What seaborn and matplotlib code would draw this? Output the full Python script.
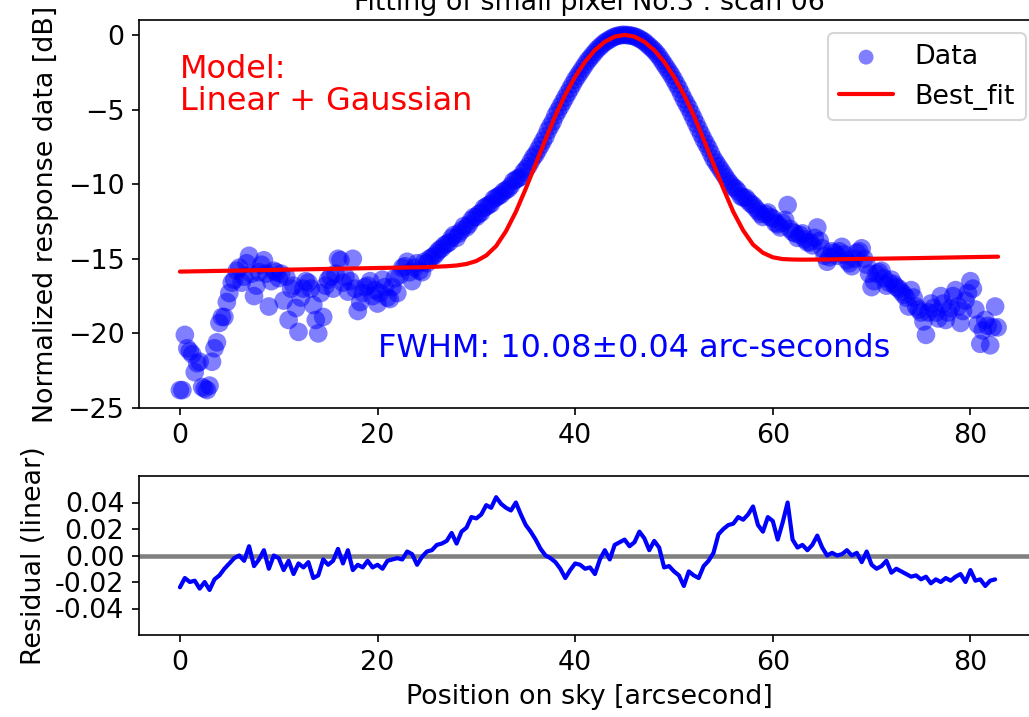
import numpy as np
import matplotlib
matplotlib.use("Agg")
import matplotlib.pyplot as plt
import seaborn as sns

# ---------------- data ----------------
title = "Fitting of small pixel No.3 : scan 06"
model_text = "Model:\nLinear + Gaussian"
fwhm_text = "FWHM: 10.08\u00b10.04 arc-seconds"

# sampling step of the scan [arcsec]
step = 0.5

# normalized response data [dB] at x = 0, 0.5, 1.0, ...
data_db = [
    -23.8, -20.1, -21.2, -22.6, -21.9, -23.7, -23.5, -21.0, -19.3, -18.9,
    -17.3, -16.4, -15.6, -16.2, -14.8, -17.5, -15.9, -15.1, -18.2, -15.8,
    -16.3, -17.8, -19.1, -16.8, -19.9, -17.0, -16.6, -18.1, -20.0, -18.9,
    -16.4, -17.0, -15.0, -16.6, -17.2, -15.0, -18.5, -17.3, -16.8, -17.5,
    -18.0, -16.4, -17.6, -16.9, -17.3, -15.6, -15.2, -16.5, -15.3, -15.9,
    -15.3, -14.9, -14.6, -14.3, -14.0, -13.6, -13.6, -13.1, -12.9, -12.4,
    -12.2, -11.9, -11.5, -11.3, -10.9, -10.7, -10.4, -10.1, -9.7, -9.5,
    -9.0, -8.5, -8.0, -7.4, -6.8, -6.1, -5.4, -4.8, -4.2, -3.6,
    -3.0, -2.5, -2.0, -1.55, -1.15, -0.8, -0.5, -0.3, -0.12, -0.03,
    0.0, -0.03, -0.1, -0.25, -0.45, -0.75, -1.05, -1.45, -1.95, -2.45,
    -3.0, -3.6, -4.3, -4.9, -5.6, -6.3, -7.0, -7.6, -8.3, -8.8,
    -9.3, -9.8, -10.2, -10.5, -10.9, -11.1, -11.4, -11.8, -12.2, -11.9,
    -12.3, -12.7, -12.6, -11.4, -13.2, -13.6, -13.3, -13.9, -14.1, -12.9,
    -14.3, -15.2, -14.5, -14.8, -14.2, -15.1, -15.5, -14.6, -14.3, -15.4,
    -16.9, -16.0, -15.8, -16.8, -16.4, -16.9, -17.2, -17.6, -17.1, -18.2,
    -18.6, -20.1, -18.0, -18.6, -17.5, -19.1, -18.3, -17.1, -19.3, -17.8,
    -16.5, -18.4, -20.7, -19.1, -20.8, -18.2,
]

# normalized response data [dB] at the in-between positions x = 0.25, 0.75, ...
data_db_mid = [
    -23.8, -21.0, -21.4, -22.0, -23.6, -23.8, -21.9, -20.6, -18.9, -17.9,
    -16.6, -15.8, -16.6, -15.3, -16.0, -16.8, -15.4, -16.0, -16.5, -15.9,
    -16.0, -16.2, -17.0, -18.3, -17.6, -16.5, -17.0, -19.1, -17.3, -16.8,
    -16.2, -16.0, -15.1, -16.2, -16.5, -17.0, -17.9, -16.9, -16.5, -17.1,
    -17.3, -16.9, -17.7, -16.3, -16.1, -15.5, -15.9, -15.6, -15.8, -15.2,
    -15.0, -14.8, -14.4, -14.1, -13.9, -13.4, -13.3, -12.8, -12.7, -12.2,
    -12.0, -11.6, -11.4, -11.0, -10.8, -10.5, -10.3, -9.8, -9.6, -9.2,
    -8.8, -8.2, -7.7, -7.1, -6.4, -5.8, -5.1, -4.5, -3.9, -3.3,
    -2.75, -2.25, -1.75, -1.35, -0.95, -0.65, -0.4, -0.2, -0.07, 0.0,
    -0.01, -0.06, -0.17, -0.35, -0.6, -0.9, -1.25, -1.7, -2.2, -2.7,
    -3.3, -3.95, -4.6, -5.25, -5.95, -6.65, -7.3, -7.95, -8.55, -9.05,
    -9.55, -10.0, -10.3, -10.8, -10.9, -11.3, -11.6, -12.0, -12.0, -12.2,
    -12.6, -12.9, -12.4, -13.0, -13.3, -13.4, -13.7, -13.9, -13.6, -13.8,
    -14.8, -14.9, -14.6, -14.5, -14.7, -15.3, -15.0, -14.5, -15.0, -16.0,
    -16.5, -15.9, -16.3, -16.6, -16.7, -17.0, -17.4, -18.2, -17.6, -18.4,
    -19.2, -18.6, -18.3, -19.0, -18.0, -18.6, -17.5, -18.2, -18.5, -17.3,
    -17.0, -19.4, -19.8, -19.5, -19.6, -19.6,
]

# best fit curve (Linear + Gaussian) in dB
fit_x = [0, 5, 10, 15, 20, 25, 27, 28, 29, 30, 31, 32, 33, 34, 35, 36, 37,
         38, 39, 40, 41, 42, 43, 44, 45, 46, 47, 48, 49, 50, 51, 52, 53, 54,
         55, 56, 57, 58, 59, 60, 61, 62, 63, 65, 70, 75, 80, 82.8]
fit_db = [-15.86, -15.80, -15.74, -15.68, -15.62, -15.56, -15.50, -15.45,
          -15.35, -15.15, -14.78, -14.15, -13.15, -11.85, -10.30, -8.65,
          -7.0, -5.4, -4.0, -2.8, -1.8, -1.02, -0.46, -0.115, 0.0, -0.115,
          -0.46, -1.02, -1.8, -2.8, -4.0, -5.4, -7.0, -8.65, -10.3, -11.85,
          -13.1, -14.05, -14.6, -14.9, -15.02, -15.05, -15.06, -15.05, -15.0,
          -14.95, -14.89, -14.86]

# residual (linear) at x = 0, 0.5, 1.0, ...
resid = [
    -0.024, -0.017, -0.020, -0.019, -0.025, -0.020, -0.026, -0.018, -0.015, -0.010,
    -0.006, -0.002, 0.000, -0.004, 0.007, -0.008, -0.003, 0.004, -0.010, 0.000,
    -0.002, -0.011, -0.004, -0.014, -0.006, -0.009, -0.005, -0.017, -0.015, -0.003,
    -0.007, -0.004, 0.005, -0.006, 0.004, -0.011, -0.007, -0.009, -0.004, -0.009,
    -0.007, -0.010, -0.004, -0.003, -0.002, -0.003, 0.003, 0.001, -0.007, -0.001,
    0.003, 0.004, 0.008, 0.009, 0.011, 0.017, 0.009, 0.018, 0.021, 0.029,
    0.028, 0.031, 0.038, 0.036, 0.044, 0.039, 0.036, 0.034, 0.040, 0.031,
    0.023, 0.018, 0.012, 0.005, 0.000, -0.002, -0.005, -0.010, -0.017, -0.011,
    -0.006, -0.007, -0.010, -0.009, -0.014, -0.003, 0.004, -0.003, 0.008, 0.010,
    0.012, 0.007, 0.010, 0.018, 0.013, 0.004, 0.011, 0.006, -0.009, -0.008,
    -0.012, -0.015, -0.023, -0.012, -0.015, -0.017, -0.008, -0.004, 0.002, 0.016,
    0.020, 0.023, 0.024, 0.029, 0.027, 0.031, 0.037, 0.023, 0.018, 0.029,
    0.026, 0.012, 0.025, 0.040, 0.012, 0.006, 0.008, 0.004, 0.008, 0.015,
    0.006, 0.000, 0.002, 0.000, 0.001, 0.004, 0.000, 0.002, -0.005, 0.003,
    -0.007, -0.010, -0.008, -0.004, -0.013, -0.010, -0.012, -0.014, -0.016, -0.015,
    -0.018, -0.016, -0.021, -0.018, -0.020, -0.017, -0.019, -0.016, -0.014, -0.020,
    -0.011, -0.019, -0.018, -0.023, -0.019, -0.018,
]

x_ticks = [0, 20, 40, 60, 80]
top_yticks = [0, -5, -10, -15, -20, -25]
res_yticks = [0.04, 0.02, 0.00, -0.02, -0.04]
res_yticklabels = ["0.04", "0.02", "0.00", "-0.02", "-0.04"]

# ---------------- style ----------------
sns.set_style("ticks", rc={"axes.edgecolor": "black", "text.color": "black",
                           "axes.labelcolor": "black", "xtick.color": "black",
                           "ytick.color": "black"})
plt.rcParams["font.family"] = ["DejaVu Sans"]
FS = 12.9
plt.rcParams["font.size"] = FS
plt.rcParams["axes.linewidth"] = 0.8

W, H, DPI = 1029, 717, 150
fig = plt.figure(figsize=(W / DPI, H / DPI), dpi=DPI)
ax1 = fig.add_axes([139 / W, (H - 408) / H, 900 / W, 388 / H])
ax2 = fig.add_axes([139 / W, (H - 635) / H, 900 / W, 159 / H])

x_data = np.concatenate([np.arange(len(data_db)) * step,
                         np.arange(len(data_db_mid)) * step + step / 2])
y_data = np.concatenate([data_db, data_db_mid])
x_res = np.arange(len(resid)) * step

# ---------------- top panel ----------------
sns.scatterplot(x=x_data, y=y_data, ax=ax1, color="blue", alpha=0.5, s=80,
                edgecolor="none", label="Data", zorder=2)
sns.lineplot(x=fit_x, y=fit_db, ax=ax1, color="red", lw=2.0, label="Best_fit",
             zorder=3)
ax1.set_xlim(-4.14, 86.94)
ax1.set_ylim(-25, 1)
ax1.set_xticks(x_ticks)
ax1.set_yticks(top_yticks)
ax1.tick_params(labelsize=FS)
ax1.set_ylabel("Normalized response data [dB]", fontsize=FS)
ax1.set_xlabel("")
ax1.set_title(title, fontsize=FS, pad=5)
ax1.text(0, -1.3, model_text, color="red", fontsize=15.3, va="top",
         ha="left", linespacing=1.02)
ax1.text(20, -21.0, fwhm_text, color="blue", fontsize=15.3, va="center",
         ha="left")
ax1.legend(loc="upper right", fontsize=FS, frameon=True, borderaxespad=0.5,
           markerscale=0.8)
for spine in ax1.spines.values():
    spine.set_visible(True)

# ---------------- residual panel ----------------
ax2.axhline(0, color="gray", lw=2.2, zorder=1)
sns.lineplot(x=x_res, y=resid, ax=ax2, color="blue", lw=2.0, zorder=2)
ax2.set_xlim(-4.14, 86.94)
ax2.set_ylim(-0.06, 0.06)
ax2.set_xticks(x_ticks)
ax2.set_yticks(res_yticks)
ax2.set_yticklabels(res_yticklabels)
ax2.tick_params(labelsize=FS)
ax2.set_ylabel("Residual (linear)", fontsize=FS)
ax2.set_xlabel("Position on sky [arcsecond]", fontsize=FS)
for spine in ax2.spines.values():
    spine.set_visible(True)

fig.savefig("out.png", dpi=DPI)
